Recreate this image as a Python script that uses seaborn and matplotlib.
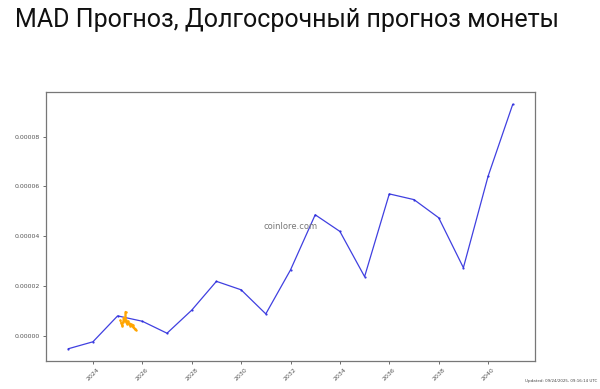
import matplotlib
matplotlib.use("Agg")
import matplotlib.pyplot as plt
import seaborn as sns
import pandas as pd
from matplotlib.ticker import FormatStrFormatter

# Forecast (blue) series
years = [2023, 2024, 2025, 2026, 2027, 2028, 2029, 2030, 2031, 2032,
         2033, 2034, 2035, 2036, 2037, 2038, 2039, 2040, 2041]
forecast = [-0.534e-5, -0.253e-5, 0.79e-5, 0.574e-5, 0.092e-5, 1.02e-5, 2.18e-5,
            1.84e-5, 0.87e-5, 2.64e-5, 4.86e-5, 4.19e-5, 2.37e-5, 5.70e-5,
            5.47e-5, 4.74e-5, 2.73e-5, 6.41e-5, 9.31e-5]

# Actual price history (orange)
hist_t = [2025.11, 2025.14, 2025.17, 2025.19, 2025.22, 2025.24, 2025.26, 2025.29,
          2025.31, 2025.32, 2025.33, 2025.36, 2025.39, 2025.42, 2025.45, 2025.48,
          2025.51, 2025.53, 2025.56, 2025.59, 2025.61, 2025.64, 2025.67, 2025.69,
          2025.71, 2025.73]
hist_v = [0.61e-5, 0.52e-5, 0.44e-5, 0.40e-5, 0.55e-5, 0.72e-5, 0.62e-5, 0.58e-5,
          0.70e-5, 0.96e-5, 0.62e-5, 0.48e-5, 0.52e-5, 0.58e-5, 0.50e-5, 0.45e-5,
          0.40e-5, 0.47e-5, 0.42e-5, 0.38e-5, 0.44e-5, 0.36e-5, 0.32e-5, 0.28e-5,
          0.27e-5, 0.24e-5]

x_ticks = [2024, 2026, 2028, 2030, 2032, 2034, 2036, 2038, 2040]

title = "MAD Прогноз, Долгосрочный прогноз монеты"
watermark = "coinlore.com"
updated = "Updated: 09/24/2025, 09:16:14 UTC"

sns.set_theme(style="ticks")
plt.rcParams['font.family'] = ['DejaVu Sans']

fig = plt.figure(figsize=(6.0, 3.89), dpi=100)
ax = fig.add_axes([46/600, 1 - 361/389, (535-46)/600, (361-92)/389])

df_f = pd.DataFrame({"year": years, "price": forecast})
df_h = pd.DataFrame({"year": hist_t, "price": hist_v})

sns.lineplot(data=df_f, x="year", y="price", ax=ax, color="#2b2bdd",
             linewidth=0.9, marker="o", markersize=1.6, markeredgewidth=0,
             alpha=0.9)
sns.lineplot(data=df_h, x="year", y="price", ax=ax, color="#ffa500",
             linewidth=1.2, marker="o", markersize=1.8, markeredgewidth=0)

ax.set_xticks(x_ticks)
ax.set_xticklabels([str(t) for t in x_ticks], rotation=45)
ax.yaxis.set_major_formatter(FormatStrFormatter('%.5f'))
ax.set_yticks([0, 2e-5, 4e-5, 6e-5, 8e-5])
ax.set_xlabel("")
ax.set_ylabel("")
ax.tick_params(axis='both', labelsize=4.5, colors='#555555', length=2.5, width=0.6, pad=2)
for s in ax.spines.values():
    s.set_color('#777777')
    s.set_linewidth(0.9)
ax.margins(x=0.05, y=0.05)

ax.text(0.5, 0.5, watermark, transform=ax.transAxes, ha='center', va='center',
        fontsize=6, color='#777777')

fig.text(15/600, 1 - 20/389, title, fontsize=18, family=['Roboto', 'DejaVu Sans'],
         color='#111111', ha='left', va='center')
fig.text(597/600, 1 - 381/389, updated, fontsize=2.9, color='#444444',
         ha='right', va='center')

fig.savefig("out.png", dpi=100)
